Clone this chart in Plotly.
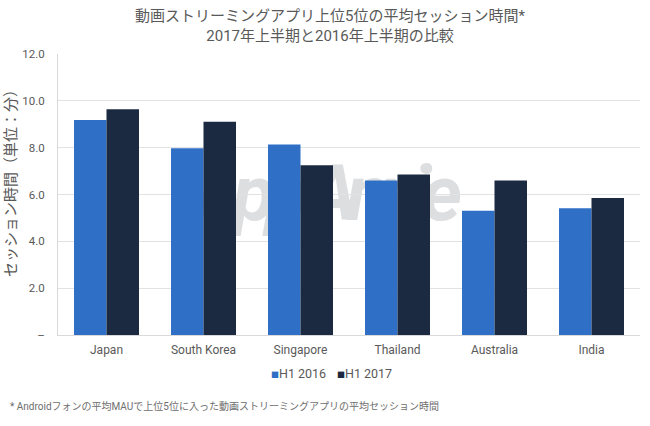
import plotly.graph_objects as go

countries = ["Japan", "South Korea", "Singapore", "Thailand", "Australia", "India"]
h1_2016 = [9.18, 7.98, 8.14, 6.60, 5.31, 5.41]
h1_2017 = [9.64, 9.11, 7.25, 6.85, 6.60, 5.85]
y_ticks = [0, 2, 4, 6, 8, 10, 12]
y_tick_labels = ["–", "2.0", "4.0", "6.0", "8.0", "10.0", "12.0"]

FONT = "Roboto, 'Noto Sans CJK JP', sans-serif"
BLUE = "#2f6fc6"
NAVY = "#1b2a40"


# page pixels to paper coordinates (plot area is x 58-640, y 54-335)
def px(x):
    return (x - 58) / 582


def py(y):
    return (335 - y) / 281


fig = go.Figure()
fig.add_trace(go.Bar(name="H1 2016", x=countries, y=h1_2016, marker=dict(color=BLUE, line_width=0)))
fig.add_trace(go.Bar(name="H1 2017", x=countries, y=h1_2017, marker=dict(color=NAVY, line_width=0)))

fig.update_layout(
    width=650,
    height=426,
    barmode="group",
    bargap=0.33,
    bargroupgap=0,
    plot_bgcolor="white",
    paper_bgcolor="white",
    font=dict(family=FONT, color="#595959", size=11),
    margin=dict(l=58, r=10, t=54, b=91),
    title=dict(
        text="動画ストリーミングアプリ上位5位の平均セッション時間*<br>2017年上半期と2016年上半期の比較",
        x=330 / 650,
        xanchor="center",
        y=0.95,
        yanchor="top",
        font=dict(size=15, color="#595959"),
    ),
    showlegend=False,
)
fig.update_xaxes(showline=True, linecolor="#d9d9d9", ticks="", tickfont=dict(size=12), ticklabelstandoff=4)
fig.update_yaxes(
    range=[0, 12],
    tickvals=y_ticks,
    ticktext=y_tick_labels,
    gridcolor="#e2e2e2",
    showline=True,
    linecolor="#d9d9d9",
    ticks="",
    zeroline=False,
    tickfont=dict(size=11.5),
    ticklabelstandoff=10,
)

# y axis title sits above the plot centre, so it is placed by hand
fig.add_annotation(
    text="セッション時間（単位：分）",
    xref="paper",
    yref="paper",
    x=px(11),
    y=py(180),
    xanchor="center",
    yanchor="middle",
    showarrow=False,
    textangle=-90,
    font=dict(size=15, color="#595959"),
)

# legend: small squares right against the text
for name, color, x in [("H1 2016", BLUE, 269), ("H1 2017", NAVY, 335)]:
    fig.add_annotation(
        text=f"<span style='color:{color};font-size:8px'>■</span>{name}",
        xref="paper",
        yref="paper",
        x=px(x),
        y=py(373),
        xanchor="left",
        yanchor="middle",
        showarrow=False,
        font=dict(size=12.5, color="#595959"),
    )

# watermark goes in a shape label so it can sit under the bars
fig.add_shape(
    type="rect",
    xref="paper",
    yref="paper",
    x0=px(190),
    x1=px(455),
    y0=py(245),
    y1=py(130),
    layer="below",
    line_width=0,
    fillcolor="rgba(0,0,0,0)",
    label=dict(
        text="<span style='letter-spacing:-10px'><b><i>App Annie</i></b></span>",
        textposition="middle center",
        textangle=0,
        font=dict(size=78, color="#dcdee0"),
    ),
)

# footnote
fig.add_annotation(
    text="* Androidフォンの平均MAUで上位5位に入った動画ストリーミングアプリの平均セッション時間",
    xref="paper",
    yref="paper",
    x=px(8),
    xanchor="left",
    y=py(406),
    yanchor="middle",
    showarrow=False,
    font=dict(size=10, color="#6e6e6e"),
)

# body margin would shift the figure and clip the axis title
fig.write_html(
    "out.html",
    config=dict(displayModeBar=False),
    post_script="document.body.style.margin = '0';",
)
